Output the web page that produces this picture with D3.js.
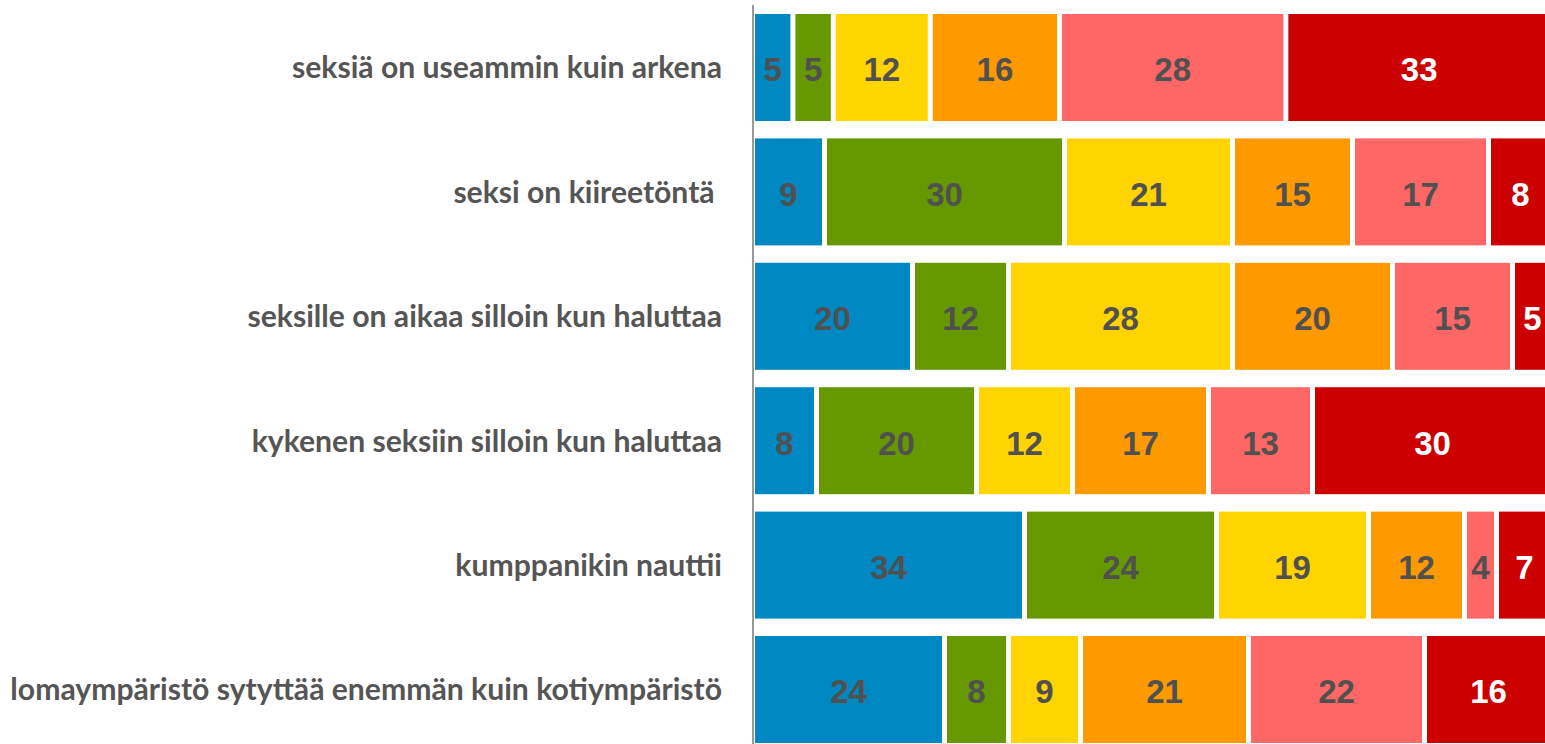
<!DOCTYPE html>
<html>
<head>
<meta charset="utf-8">
<script src="https://cdn.jsdelivr.net/npm/d3@7"></script>
<style>
  body { margin: 0; background: #fff; }
  svg { display: block; }
</style>
</head>
<body>
<div id="chart"></div>
<script>
// data
var categories = [
  "seksiä on useammin kuin arkena",
  "seksi on kiireetöntä ",
  "seksille on aikaa silloin kun haluttaa",
  "kykenen seksiin silloin kun haluttaa",
  "kumppanikin nauttii",
  "lomaympäristö sytyttää enemmän kuin kotiympäristö"
];
var series1 = [5, 9, 20, 8, 34, 24];
var series2 = [5, 30, 12, 20, 24, 8];
var series3 = [12, 21, 28, 12, 19, 9];
var series4 = [16, 15, 20, 17, 12, 21];
var series5 = [28, 17, 15, 13, 4, 22];
var series6 = [33, 8, 5, 30, 7, 16];

var allSeries = [series1, series2, series3, series4, series5, series6];
var colors = ["#0088c2", "#669900", "#ffd400", "#ff9900", "#ff6666", "#cc0000"];
var textColors = ["#505050", "#505050", "#505050", "#505050", "#505050", "#ffffff"];

var width = 1545, height = 744;

var svg = d3.select("#chart")
  .append("svg")
    .attr("width", width)
    .attr("height", height);

// scales
var y = d3.scaleBand()
  .domain(categories)
  .range([5.3, 751.7])
  .paddingInner(0.14)
  .paddingOuter(0.07);

var x = d3.scaleLinear().domain([0, 1]).range([755, 1555]);
var gap = 5;

// build stacked rows (normalised to 100%)
var rows = categories.map(function(c, i) {
  var vals = allSeries.map(function(s) { return s[i]; });
  var total = d3.sum(vals);
  var acc = 0;
  return vals.map(function(v, j) {
    var seg = { cat: c, value: v, k: j, start: acc / total, end: (acc + v) / total };
    acc += v;
    return seg;
  });
});

var segs = [].concat.apply([], rows);

// bars
svg.selectAll("rect.bar")
  .data(segs)
  .enter()
  .append("rect")
    .attr("class", "bar")
    .attr("x", function(d) { return x(d.start); })
    .attr("y", function(d) { return y(d.cat); })
    .attr("width", function(d) { return Math.max(0, x(d.end) - x(d.start) - gap); })
    .attr("height", y.bandwidth())
    .attr("fill", function(d) { return colors[d.k]; });

// value labels
svg.selectAll("text.val")
  .data(segs)
  .enter()
  .append("text")
    .attr("class", "val")
    .attr("x", function(d) { return x(d.start) + (x(d.end) - x(d.start) - gap) / 2; })
    .attr("y", function(d) { return y(d.cat) + y.bandwidth() / 2; })
    .attr("dy", "0.42em")
    .attr("text-anchor", "middle")
    .style("font-family", "'Liberation Sans', Arial, sans-serif")
    .style("font-weight", "bold")
    .style("font-size", "33px")
    .attr("fill", function(d) { return textColors[d.k]; })
    .text(function(d) { return d.value; });

// category labels
var catLabels = svg.selectAll("text.cat")
  .data(categories)
  .enter()
  .append("text")
    .attr("class", "cat")
    .attr("x", 722)
    .attr("y", function(d) { return y(d) + y.bandwidth() / 2; })
    .attr("dy", "0.36em")
    .attr("text-anchor", "end")
    .style("white-space", "pre")
    .style("font-family", "Lato, 'Open Sans', sans-serif")
    .style("font-weight", "bold")
    .style("font-size", "30px")
    .attr("fill", "#555555")
    .text(function(d) { return d; });

// fit the longest label to the left margin
var longest = d3.max(catLabels.nodes(), function(n) { return n.getComputedTextLength(); });
catLabels.style("font-size", (30 * 712 / longest) + "px");

// axis line
svg.append("line")
  .attr("x1", 753).attr("x2", 753)
  .attr("y1", 5).attr("y2", 744)
  .attr("stroke", "#999999")
  .attr("stroke-width", 2);
</script>
</body>
</html>
